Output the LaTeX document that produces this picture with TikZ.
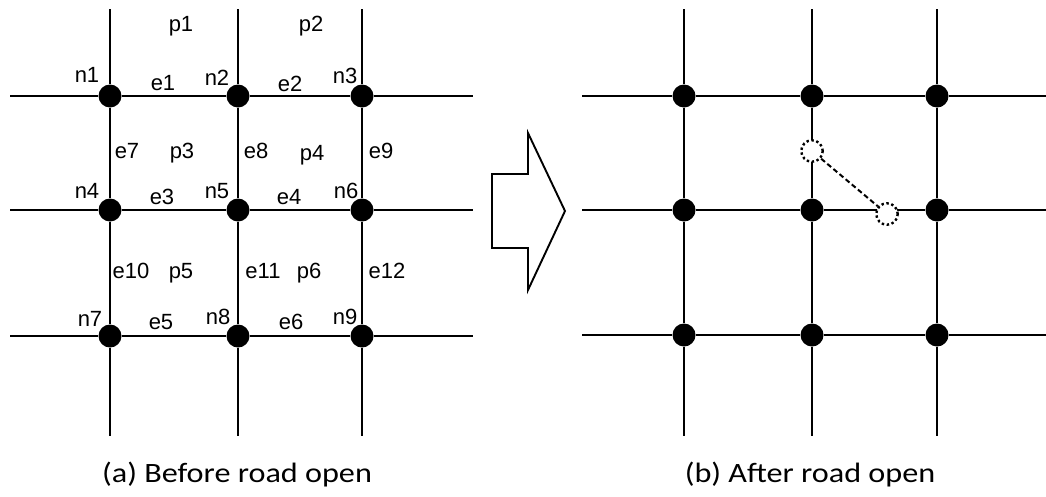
\documentclass[tikz,border=0pt]{standalone}
\usepackage{fontspec}
\setmainfont{Liberation Sans}
\newfontfamily\capfont{Carlito}
\begin{document}
\begin{tikzpicture}[x=1pt,y=-1pt,
  road/.style={line width=1.8pt,black},
  dot/.style={circle,fill=black,inner sep=0pt,minimum size=23pt},
  ghost/.style={circle,draw=black,line width=2.4pt,dash pattern=on 2.4pt off 2.6pt,fill=white,inner sep=0pt,minimum size=21.5pt},
  lbl/.style={anchor=base,inner sep=0pt,font=\fontsize{22}{22}\selectfont},
  captext/.style={anchor=base,inner sep=0pt,font=\capfont\fontsize{28}{28}\selectfont}]
\useasboundingbox (0,0) rectangle (1046,496);
% ---- left grid ----
\foreach \c/\x in {1/110,2/238,3/362}{
  \coordinate (aT\c) at (\x,9);
  \coordinate (aB\c) at (\x,436);
}
\foreach \r/\y in {1/96,2/210,3/336}{
  \coordinate (aL\r) at (10,\y);
  \coordinate (aR\r) at (473,\y);
}
\node[dot] (a1) at (110,96) {};
\node[dot] (a2) at (238,96) {};
\node[dot] (a3) at (362,96) {};
\node[dot] (a4) at (110,210) {};
\node[dot] (a5) at (238,210) {};
\node[dot] (a6) at (362,210) {};
\node[dot] (a7) at (110,336) {};
\node[dot] (a8) at (238,336) {};
\node[dot] (a9) at (362,336) {};
\draw[road] (aL1) -- (a1) -- (a2) -- (a3) -- (aR1);
\draw[road] (aL2) -- (a4) -- (a5) -- (a6) -- (aR2);
\draw[road] (aL3) -- (a7) -- (a8) -- (a9) -- (aR3);
\draw[road] (aT1) -- (a1) -- (a4) -- (a7) -- (aB1);
\draw[road] (aT2) -- (a2) -- (a5) -- (a8) -- (aB2);
\draw[road] (aT3) -- (a3) -- (a6) -- (a9) -- (aB3);
% labels
\node[lbl] (lp1) at (181,31) {p1};
\node[lbl] (lp2) at (311,31) {p2};
\node[lbl] (ln1) at (87,82) {n1};
\node[lbl] (le1) at (163,90) {e1};
\node[lbl] (ln2) at (217,85) {n2};
\node[lbl] (le2) at (290,91) {e2};
\node[lbl] (ln3) at (345,83) {n3};
\node[lbl] (le7) at (127,158) {e7};
\node[lbl] (lp3) at (182,158) {p3};
\node[lbl] (le8) at (256,158) {e8};
\node[lbl] (lp4) at (312,160) {p4};
\node[lbl] (le9) at (381,158) {e9};
\node[lbl] (ln4) at (87,198) {n4};
\node[lbl] (le3) at (162,204) {e3};
\node[lbl] (ln5) at (217,198) {n5};
\node[lbl] (le4) at (289,204) {e4};
\node[lbl] (ln6) at (346,198) {n6};
\node[lbl] (le10) at (131,278) {e10};
\node[lbl] (lp5) at (181,278) {p5};
\node[lbl] (le11) at (263,278) {e11};
\node[lbl] (lp6) at (309,278) {p6};
\node[lbl] (le12) at (387,278) {e12};
\node[lbl] (ln7) at (90,326) {n7};
\node[lbl] (le5) at (161,329) {e5};
\node[lbl] (ln8) at (218,324) {n8};
\node[lbl] (le6) at (291,329) {e6};
\node[lbl] (ln9) at (345,324) {n9};
\node[captext] (capa) at (237,482) {\scalebox{1.15}[1]{(a) Before road open}};
% ---- arrow ----
\draw[line width=1.9pt,line join=miter]
  (492,174) -- (528,174) -- (528,133) -- (565,211) -- (528,290) -- (528,248) -- (492,248) -- cycle;
% ---- right grid ----
\foreach \c/\x in {1/684,2/812,3/937}{
  \coordinate (bT\c) at (\x,9);
  \coordinate (bB\c) at (\x,436);
}
\foreach \r/\y in {1/96,2/210,3/335}{
  \coordinate (bL\r) at (582,\y);
  \coordinate (bR\r) at (1046,\y);
}
\node[dot] (b1) at (684,96) {};
\node[dot] (b2) at (812,96) {};
\node[dot] (b3) at (937,96) {};
\node[dot] (b4) at (684,210) {};
\node[dot] (b5) at (812,210) {};
\node[dot] (b6) at (937,210) {};
\node[dot] (b7) at (684,335) {};
\node[dot] (b8) at (812,335) {};
\node[dot] (b9) at (937,335) {};
\draw[road] (bL1) -- (b1) -- (b2) -- (b3) -- (bR1);
\draw[road] (bL2) -- (b4) -- (b5) -- (b6) -- (bR2);
\draw[road] (bL3) -- (b7) -- (b8) -- (b9) -- (bR3);
\draw[road] (bT1) -- (b1) -- (b4) -- (b7) -- (bB1);
\draw[road] (bT2) -- (b2) -- (b5) -- (b8) -- (bB2);
\draw[road] (bT3) -- (b3) -- (b6) -- (b9) -- (bB3);
\node[ghost] (g1) at (812,151) {};
\node[ghost] (g2) at (887,214) {};
\draw[line width=2pt,dash pattern=on 5pt off 3pt] (g1) -- (g2);
\node[captext] (capb) at (810,482) {\scalebox{1.15}[1]{(b) After road open}};
\end{tikzpicture}
\end{document}
